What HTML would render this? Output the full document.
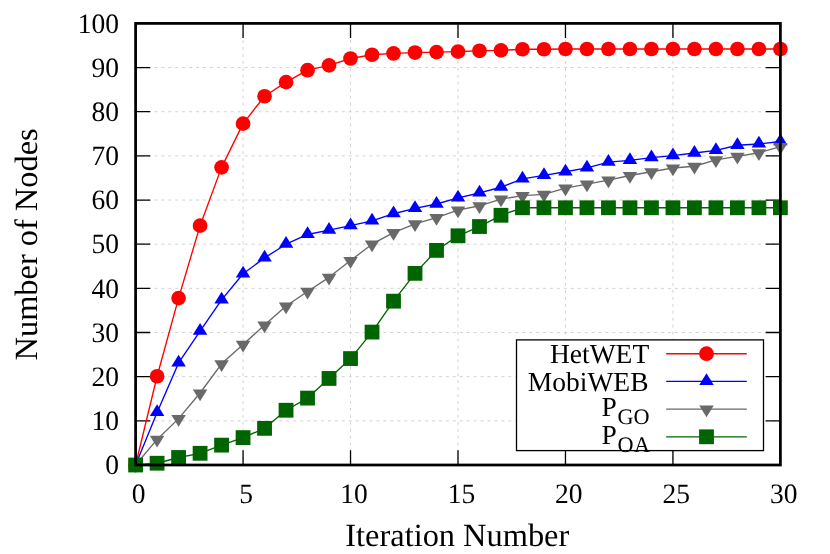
<!DOCTYPE html>
<html><head><meta charset="utf-8"><title>Number of Nodes vs Iteration Number</title>
<style>
html,body{margin:0;padding:0;background:#fff;}
body{width:830px;height:554px;overflow:hidden;font-family:"Liberation Serif",serif;}
svg text{font-family:"Liberation Serif",serif;font-kerning:none;text-rendering:geometricPrecision;}
</style></head><body>
<svg width="830" height="554" viewBox="0 0 830 554" style="display:block;will-change:transform">
<rect x="0" y="0" width="830" height="554" fill="#ffffff"/>
<path d="M133.6 420.84H780.4M133.6 376.68H780.4M133.6 332.52H780.4M133.6 288.36H780.4M133.6 244.2H780.4M133.6 200.04H780.4M133.6 155.88H780.4M133.6 111.72H780.4M133.6 67.56H780.4M243.07 466.4V23.4M350.53 466.4V23.4M458 466.4V23.4M565.47 466.4V23.4M672.93 466.4V23.4" fill="none" stroke="#c6c6c6" stroke-width="0.8" stroke-dasharray="2.9 4.04"/>
<path d="M135.6 465h14.7M780.4 465h-14.7M135.6 420.84h14.7M780.4 420.84h-14.7M135.6 376.68h14.7M780.4 376.68h-14.7M135.6 332.52h14.7M780.4 332.52h-14.7M135.6 288.36h14.7M780.4 288.36h-14.7M135.6 244.2h14.7M780.4 244.2h-14.7M135.6 200.04h14.7M780.4 200.04h-14.7M135.6 155.88h14.7M780.4 155.88h-14.7M135.6 111.72h14.7M780.4 111.72h-14.7M135.6 67.56h14.7M780.4 67.56h-14.7M135.6 23.4h14.7M780.4 23.4h-14.7M135.6 465v-14.7M135.6 23.4v14.7M243.07 465v-14.7M243.07 23.4v14.7M350.53 465v-14.7M350.53 23.4v14.7M458 465v-14.7M458 23.4v14.7M565.47 465v-14.7M565.47 23.4v14.7M672.93 465v-14.7M672.93 23.4v14.7M780.4 465v-14.7M780.4 23.4v14.7" fill="none" stroke="#000" stroke-width="1.3"/>
<polyline points="135.6,465 157.09,376.24 178.59,298.08 200.08,225.65 221.57,167.36 243.07,123.64 264.56,96.26 286.05,82.13 307.55,70.21 329.04,65.35 350.53,58.51 372.03,54.75 393.52,53.43 415.01,52.55 436.51,52.1 458,51.66 479.49,50.78 500.99,50.34 522.48,49.23 543.97,49.23 565.47,49.01 586.96,49.01 608.45,49.01 629.95,49.01 651.44,49.01 672.93,49.01 694.43,49.01 715.92,49.01 737.41,49.01 758.91,49.01 780.4,49.01" fill="none" stroke="#ff0000" stroke-width="1.35" stroke-linejoin="round"/>
<circle cx="135.6" cy="465" r="7.35" fill="#ff0000"/><circle cx="157.09" cy="376.24" r="7.35" fill="#ff0000"/><circle cx="178.59" cy="298.08" r="7.35" fill="#ff0000"/><circle cx="200.08" cy="225.65" r="7.35" fill="#ff0000"/><circle cx="221.57" cy="167.36" r="7.35" fill="#ff0000"/><circle cx="243.07" cy="123.64" r="7.35" fill="#ff0000"/><circle cx="264.56" cy="96.26" r="7.35" fill="#ff0000"/><circle cx="286.05" cy="82.13" r="7.35" fill="#ff0000"/><circle cx="307.55" cy="70.21" r="7.35" fill="#ff0000"/><circle cx="329.04" cy="65.35" r="7.35" fill="#ff0000"/><circle cx="350.53" cy="58.51" r="7.35" fill="#ff0000"/><circle cx="372.03" cy="54.75" r="7.35" fill="#ff0000"/><circle cx="393.52" cy="53.43" r="7.35" fill="#ff0000"/><circle cx="415.01" cy="52.55" r="7.35" fill="#ff0000"/><circle cx="436.51" cy="52.1" r="7.35" fill="#ff0000"/><circle cx="458" cy="51.66" r="7.35" fill="#ff0000"/><circle cx="479.49" cy="50.78" r="7.35" fill="#ff0000"/><circle cx="500.99" cy="50.34" r="7.35" fill="#ff0000"/><circle cx="522.48" cy="49.23" r="7.35" fill="#ff0000"/><circle cx="543.97" cy="49.23" r="7.35" fill="#ff0000"/><circle cx="565.47" cy="49.01" r="7.35" fill="#ff0000"/><circle cx="586.96" cy="49.01" r="7.35" fill="#ff0000"/><circle cx="608.45" cy="49.01" r="7.35" fill="#ff0000"/><circle cx="629.95" cy="49.01" r="7.35" fill="#ff0000"/><circle cx="651.44" cy="49.01" r="7.35" fill="#ff0000"/><circle cx="672.93" cy="49.01" r="7.35" fill="#ff0000"/><circle cx="694.43" cy="49.01" r="7.35" fill="#ff0000"/><circle cx="715.92" cy="49.01" r="7.35" fill="#ff0000"/><circle cx="737.41" cy="49.01" r="7.35" fill="#ff0000"/><circle cx="758.91" cy="49.01" r="7.35" fill="#ff0000"/><circle cx="780.4" cy="49.01" r="7.35" fill="#ff0000"/>
<polyline points="135.6,465 157.09,412.45 178.59,362.99 200.08,331.2 221.57,299.84 243.07,273.79 264.56,257.89 286.05,244.2 307.55,234.48 329.04,230.07 350.53,225.65 372.03,220.8 393.52,213.73 415.01,208.43 436.51,204.01 458,197.83 479.49,192.97 500.99,187.23 522.48,178.84 543.97,175.31 565.47,171.78 586.96,167.8 608.45,162.06 629.95,160.3 651.44,157.65 672.93,155.66 694.43,153.01 715.92,150.36 737.41,145.28 758.91,143.96 780.4,141.53" fill="none" stroke="#0000ff" stroke-width="1.35" stroke-linejoin="round"/>
<path d="M135.6 456.88L128.35 468.62L142.85 468.62Z" fill="#0000ff"/><path d="M157.09 404.33L149.84 416.07L164.34 416.07Z" fill="#0000ff"/><path d="M178.59 354.87L171.34 366.62L185.84 366.62Z" fill="#0000ff"/><path d="M200.08 323.08L192.83 334.82L207.33 334.82Z" fill="#0000ff"/><path d="M221.57 291.72L214.32 303.47L228.82 303.47Z" fill="#0000ff"/><path d="M243.07 265.67L235.82 277.41L250.32 277.41Z" fill="#0000ff"/><path d="M264.56 249.77L257.31 261.51L271.81 261.51Z" fill="#0000ff"/><path d="M286.05 236.08L278.8 247.82L293.3 247.82Z" fill="#0000ff"/><path d="M307.55 226.36L300.3 238.11L314.8 238.11Z" fill="#0000ff"/><path d="M329.04 221.95L321.79 233.69L336.29 233.69Z" fill="#0000ff"/><path d="M350.53 217.53L343.28 229.28L357.78 229.28Z" fill="#0000ff"/><path d="M372.03 212.68L364.78 224.42L379.28 224.42Z" fill="#0000ff"/><path d="M393.52 205.61L386.27 217.35L400.77 217.35Z" fill="#0000ff"/><path d="M415.01 200.31L407.76 212.06L422.26 212.06Z" fill="#0000ff"/><path d="M436.51 195.89L429.26 207.64L443.76 207.64Z" fill="#0000ff"/><path d="M458 189.71L450.75 201.46L465.25 201.46Z" fill="#0000ff"/><path d="M479.49 184.85L472.24 196.6L486.74 196.6Z" fill="#0000ff"/><path d="M500.99 179.11L493.74 190.86L508.24 190.86Z" fill="#0000ff"/><path d="M522.48 170.72L515.23 182.47L529.73 182.47Z" fill="#0000ff"/><path d="M543.97 167.19L536.72 178.94L551.22 178.94Z" fill="#0000ff"/><path d="M565.47 163.66L558.22 175.4L572.72 175.4Z" fill="#0000ff"/><path d="M586.96 159.68L579.71 171.43L594.21 171.43Z" fill="#0000ff"/><path d="M608.45 153.94L601.2 165.69L615.7 165.69Z" fill="#0000ff"/><path d="M629.95 152.18L622.7 163.92L637.2 163.92Z" fill="#0000ff"/><path d="M651.44 149.53L644.19 161.27L658.69 161.27Z" fill="#0000ff"/><path d="M672.93 147.54L665.68 159.28L680.18 159.28Z" fill="#0000ff"/><path d="M694.43 144.89L687.18 156.63L701.68 156.63Z" fill="#0000ff"/><path d="M715.92 142.24L708.67 153.99L723.17 153.99Z" fill="#0000ff"/><path d="M737.41 137.16L730.16 148.91L744.66 148.91Z" fill="#0000ff"/><path d="M758.91 135.84L751.66 147.58L766.16 147.58Z" fill="#0000ff"/><path d="M780.4 133.41L773.15 145.15L787.65 145.15Z" fill="#0000ff"/>
<polyline points="135.6,465 157.09,439.39 178.59,418.63 200.08,393.02 221.57,363.87 243.07,344.44 264.56,325.01 286.05,306.02 307.55,291.45 329.04,277.32 350.53,260.54 372.03,244.2 393.52,232.72 415.01,223.89 436.51,217.7 458,210.2 479.49,205.78 500.99,199.16 522.48,195.62 543.97,194.3 565.47,188.12 586.96,184.14 608.45,180.17 629.95,175.53 651.44,171.78 672.93,168.02 694.43,166.26 715.92,159.85 737.41,156.32 758.91,152.79 780.4,146.61" fill="none" stroke="#696969" stroke-width="1.35" stroke-linejoin="round"/>
<path d="M135.6 473.12L128.35 461.38L142.85 461.38Z" fill="#696969"/><path d="M157.09 447.51L149.84 435.76L164.34 435.76Z" fill="#696969"/><path d="M178.59 426.75L171.34 415.01L185.84 415.01Z" fill="#696969"/><path d="M200.08 401.14L192.83 389.39L207.33 389.39Z" fill="#696969"/><path d="M221.57 371.99L214.32 360.25L228.82 360.25Z" fill="#696969"/><path d="M243.07 352.56L235.82 340.82L250.32 340.82Z" fill="#696969"/><path d="M264.56 333.13L257.31 321.39L271.81 321.39Z" fill="#696969"/><path d="M286.05 314.14L278.8 302.4L293.3 302.4Z" fill="#696969"/><path d="M307.55 299.57L300.3 287.83L314.8 287.83Z" fill="#696969"/><path d="M329.04 285.44L321.79 273.69L336.29 273.69Z" fill="#696969"/><path d="M350.53 268.66L343.28 256.91L357.78 256.91Z" fill="#696969"/><path d="M372.03 252.32L364.78 240.57L379.28 240.57Z" fill="#696969"/><path d="M393.52 240.84L386.27 229.09L400.77 229.09Z" fill="#696969"/><path d="M415.01 232.01L407.76 220.26L422.26 220.26Z" fill="#696969"/><path d="M436.51 225.82L429.26 214.08L443.76 214.08Z" fill="#696969"/><path d="M458 218.32L450.75 206.57L465.25 206.57Z" fill="#696969"/><path d="M479.49 213.9L472.24 202.16L486.74 202.16Z" fill="#696969"/><path d="M500.99 207.28L493.74 195.53L508.24 195.53Z" fill="#696969"/><path d="M522.48 203.74L515.23 192L529.73 192Z" fill="#696969"/><path d="M543.97 202.42L536.72 190.67L551.22 190.67Z" fill="#696969"/><path d="M565.47 196.24L558.22 184.49L572.72 184.49Z" fill="#696969"/><path d="M586.96 192.26L579.71 180.52L594.21 180.52Z" fill="#696969"/><path d="M608.45 188.29L601.2 176.54L615.7 176.54Z" fill="#696969"/><path d="M629.95 183.65L622.7 171.91L637.2 171.91Z" fill="#696969"/><path d="M651.44 179.9L644.19 168.15L658.69 168.15Z" fill="#696969"/><path d="M672.93 176.14L665.68 164.4L680.18 164.4Z" fill="#696969"/><path d="M694.43 174.38L687.18 162.63L701.68 162.63Z" fill="#696969"/><path d="M715.92 167.97L708.67 156.23L723.17 156.23Z" fill="#696969"/><path d="M737.41 164.44L730.16 152.7L744.66 152.7Z" fill="#696969"/><path d="M758.91 160.91L751.66 149.16L766.16 149.16Z" fill="#696969"/><path d="M780.4 154.73L773.15 142.98L787.65 142.98Z" fill="#696969"/>
<polyline points="135.6,465 157.09,463.23 178.59,457.49 200.08,453.3 221.57,445.13 243.07,437.62 264.56,428.35 286.05,410.24 307.55,398.1 329.04,378.45 350.53,358.57 372.03,332.08 393.52,301.17 415.01,273.35 436.51,250.38 458,235.81 479.49,226.54 500.99,215.28 522.48,207.77 543.97,207.77 565.47,207.77 586.96,207.77 608.45,207.77 629.95,207.77 651.44,207.77 672.93,207.77 694.43,207.77 715.92,207.77 737.41,207.77 758.91,207.77 780.4,207.77" fill="none" stroke="#006400" stroke-width="1.35" stroke-linejoin="round"/>
<rect x="128.2" y="457.6" width="14.8" height="14.8" fill="#006400"/><rect x="149.69" y="455.83" width="14.8" height="14.8" fill="#006400"/><rect x="171.19" y="450.09" width="14.8" height="14.8" fill="#006400"/><rect x="192.68" y="445.9" width="14.8" height="14.8" fill="#006400"/><rect x="214.17" y="437.73" width="14.8" height="14.8" fill="#006400"/><rect x="235.67" y="430.22" width="14.8" height="14.8" fill="#006400"/><rect x="257.16" y="420.95" width="14.8" height="14.8" fill="#006400"/><rect x="278.65" y="402.84" width="14.8" height="14.8" fill="#006400"/><rect x="300.15" y="390.7" width="14.8" height="14.8" fill="#006400"/><rect x="321.64" y="371.05" width="14.8" height="14.8" fill="#006400"/><rect x="343.13" y="351.17" width="14.8" height="14.8" fill="#006400"/><rect x="364.63" y="324.68" width="14.8" height="14.8" fill="#006400"/><rect x="386.12" y="293.77" width="14.8" height="14.8" fill="#006400"/><rect x="407.61" y="265.95" width="14.8" height="14.8" fill="#006400"/><rect x="429.11" y="242.98" width="14.8" height="14.8" fill="#006400"/><rect x="450.6" y="228.41" width="14.8" height="14.8" fill="#006400"/><rect x="472.09" y="219.14" width="14.8" height="14.8" fill="#006400"/><rect x="493.59" y="207.88" width="14.8" height="14.8" fill="#006400"/><rect x="515.08" y="200.37" width="14.8" height="14.8" fill="#006400"/><rect x="536.57" y="200.37" width="14.8" height="14.8" fill="#006400"/><rect x="558.07" y="200.37" width="14.8" height="14.8" fill="#006400"/><rect x="579.56" y="200.37" width="14.8" height="14.8" fill="#006400"/><rect x="601.05" y="200.37" width="14.8" height="14.8" fill="#006400"/><rect x="622.55" y="200.37" width="14.8" height="14.8" fill="#006400"/><rect x="644.04" y="200.37" width="14.8" height="14.8" fill="#006400"/><rect x="665.53" y="200.37" width="14.8" height="14.8" fill="#006400"/><rect x="687.03" y="200.37" width="14.8" height="14.8" fill="#006400"/><rect x="708.52" y="200.37" width="14.8" height="14.8" fill="#006400"/><rect x="730.01" y="200.37" width="14.8" height="14.8" fill="#006400"/><rect x="751.51" y="200.37" width="14.8" height="14.8" fill="#006400"/><rect x="773" y="200.37" width="14.8" height="14.8" fill="#006400"/>
<rect x="516.5" y="339.9" width="247" height="110.7" fill="#fff" stroke="#000" stroke-width="1.3"/>
<path d="M666.2 353.7H746.8" stroke="#ff0000" stroke-width="1.35" fill="none"/>
<circle cx="706.5" cy="353.7" r="7.35" fill="#ff0000"/>
<path d="M666.2 381.4H746.8" stroke="#0000ff" stroke-width="1.35" fill="none"/>
<path d="M706.5 373.28L699.25 385.02L713.75 385.02Z" fill="#0000ff"/>
<path d="M666.2 409.1H746.8" stroke="#696969" stroke-width="1.35" fill="none"/>
<path d="M706.5 417.22L699.25 405.48L713.75 405.48Z" fill="#696969"/>
<path d="M666.2 436.8H746.8" stroke="#006400" stroke-width="1.35" fill="none"/>
<rect x="699.1" y="429.4" width="14.8" height="14.8" fill="#006400"/>
<rect x="135.6" y="23.4" width="644.8" height="441.6" fill="none" stroke="#000" stroke-width="2.75"/>
<text transform="translate(118.9 474.2) scale(1 1.02)" font-size="27.5" text-anchor="end" font-family="Liberation Serif, serif" fill="#000">0</text>
<text transform="translate(118.9 430.04) scale(1 1.02)" font-size="27.5" text-anchor="end" font-family="Liberation Serif, serif" fill="#000">10</text>
<text transform="translate(118.9 385.88) scale(1 1.02)" font-size="27.5" text-anchor="end" font-family="Liberation Serif, serif" fill="#000">20</text>
<text transform="translate(118.9 341.72) scale(1 1.02)" font-size="27.5" text-anchor="end" font-family="Liberation Serif, serif" fill="#000">30</text>
<text transform="translate(118.9 297.56) scale(1 1.02)" font-size="27.5" text-anchor="end" font-family="Liberation Serif, serif" fill="#000">40</text>
<text transform="translate(118.9 253.4) scale(1 1.02)" font-size="27.5" text-anchor="end" font-family="Liberation Serif, serif" fill="#000">50</text>
<text transform="translate(118.9 209.24) scale(1 1.02)" font-size="27.5" text-anchor="end" font-family="Liberation Serif, serif" fill="#000">60</text>
<text transform="translate(118.9 165.08) scale(1 1.02)" font-size="27.5" text-anchor="end" font-family="Liberation Serif, serif" fill="#000">70</text>
<text transform="translate(118.9 120.92) scale(1 1.02)" font-size="27.5" text-anchor="end" font-family="Liberation Serif, serif" fill="#000">80</text>
<text transform="translate(118.9 76.76) scale(1 1.02)" font-size="27.5" text-anchor="end" font-family="Liberation Serif, serif" fill="#000">90</text>
<text transform="translate(118.9 32.6) scale(1 1.02)" font-size="27.5" text-anchor="end" font-family="Liberation Serif, serif" fill="#000">100</text>
<text transform="translate(138.6 502.8) scale(1 1.02)" font-size="27.5" text-anchor="middle" font-family="Liberation Serif, serif" fill="#000">0</text>
<text transform="translate(246.07 502.8) scale(1 1.02)" font-size="27.5" text-anchor="middle" font-family="Liberation Serif, serif" fill="#000">5</text>
<text transform="translate(353.93 502.8) scale(1 1.02)" font-size="27.5" text-anchor="middle" font-family="Liberation Serif, serif" fill="#000">10</text>
<text transform="translate(461.4 502.8) scale(1 1.02)" font-size="27.5" text-anchor="middle" font-family="Liberation Serif, serif" fill="#000">15</text>
<text transform="translate(568.87 502.8) scale(1 1.02)" font-size="27.5" text-anchor="middle" font-family="Liberation Serif, serif" fill="#000">20</text>
<text transform="translate(676.33 502.8) scale(1 1.02)" font-size="27.5" text-anchor="middle" font-family="Liberation Serif, serif" fill="#000">25</text>
<text transform="translate(783.8 502.8) scale(1 1.02)" font-size="27.5" text-anchor="middle" font-family="Liberation Serif, serif" fill="#000">30</text>
<text x="457.3" y="545.6" font-size="32.4" text-anchor="middle" font-family="Liberation Serif, serif" fill="#000">Iteration Number</text>
<text transform="translate(37.4 244.4) rotate(-90)" font-size="32.4" text-anchor="middle" font-family="Liberation Serif, serif" fill="#000">Number of Nodes</text>
<text x="649.2" y="363.3" font-size="27.5" text-anchor="end" font-family="Liberation Serif, serif" fill="#000">HetWET</text>
<text x="648.5" y="390.9" font-size="27.5" text-anchor="end" font-family="Liberation Serif, serif" fill="#000">MobiWEB</text>
<text x="601.5" y="415.9" font-size="27.5" text-anchor="start" font-family="Liberation Serif, serif" fill="#000">P</text>
<text x="617.6" y="423.9" font-size="22.2" text-anchor="start" font-family="Liberation Serif, serif" fill="#000">GO</text>
<text x="601.5" y="443.6" font-size="27.5" text-anchor="start" font-family="Liberation Serif, serif" fill="#000">P</text>
<text x="617.6" y="451.6" font-size="22.2" letter-spacing="0.5" text-anchor="start" font-family="Liberation Serif, serif" fill="#000">OA</text>
</svg>
</body></html>
